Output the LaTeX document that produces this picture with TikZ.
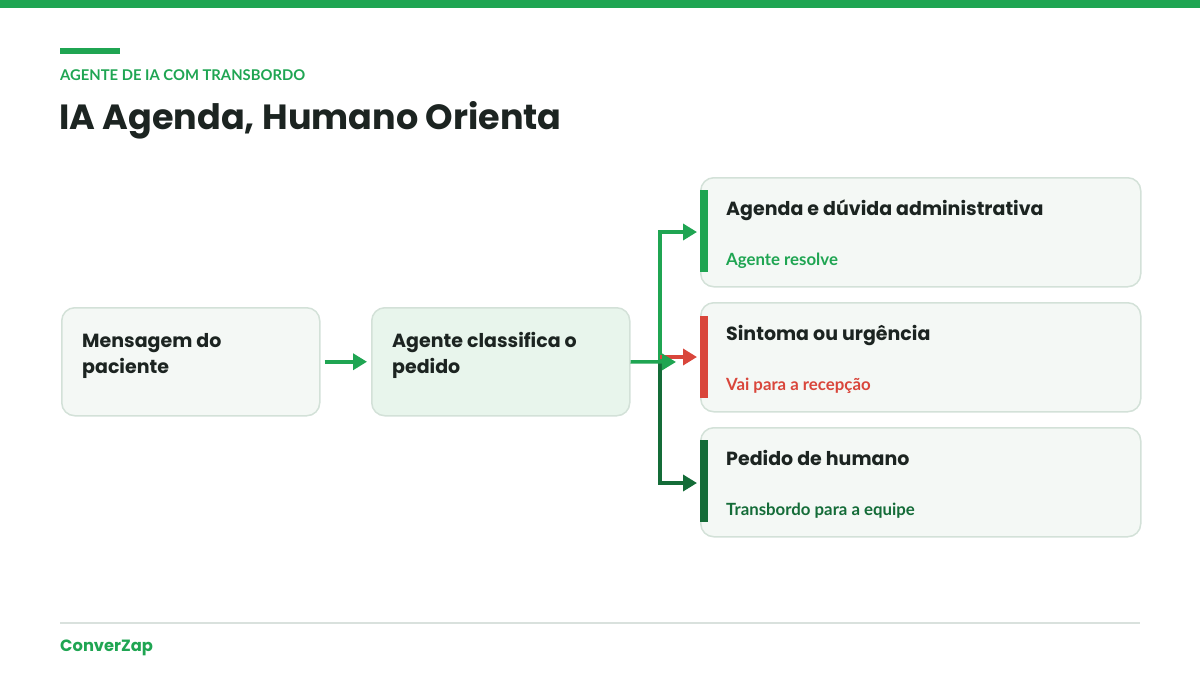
\documentclass[tikz,border=0pt]{standalone}
\usepackage{fontspec}
\setmainfont{Lato}
\newfontfamily\headfont{Poppins}
\usetikzlibrary{arrows.meta}
\definecolor{brand}{HTML}{1FA552}
\definecolor{darkbrand}{HTML}{146C38}
\definecolor{alert}{HTML}{D9463B}
\definecolor{ink}{HTML}{1C2421}
\definecolor{boxfill}{HTML}{F4F8F5}
\definecolor{boxfillb}{HTML}{E8F5EC}
\definecolor{boxline}{HTML}{D3E1D8}
\definecolor{rule}{HTML}{D9E1DD}
\tikzset{
  card/.style={draw=boxline, line width=1.5pt, rounded corners=13pt, fill=boxfill, minimum width=#1, inner sep=0pt, anchor=north west},
  card/.default=258pt,
  heading/.style={anchor=base west, inner sep=0pt, font=\headfont\bfseries\fontsize{19}{26}\selectfont, text=ink, align=left},
  sub/.style={anchor=base west, inner sep=0pt, font=\bfseries\fontsize{16.8}{18}\selectfont},
  flow/.style={line width=3.5pt, -{Triangle[length=14pt,width=16pt]}},
  accent/.style={fill=#1, draw=none}
}
\begin{document}
\begin{tikzpicture}[x=1pt,y=-1pt]
\useasboundingbox (0,0) rectangle (1200,675);
\fill[brand] (0,0) rectangle (1200,8);
\fill[brand] (60,48) rectangle (120,54);
\node[anchor=base west, inner sep=0pt, text=brand, font=\bfseries\fontsize{14.8}{16}\selectfont] (kicker) at (60,80) {AGENTE DE IA COM TRANSBORDO};
\node[anchor=base west, inner sep=0pt, text=ink, font=\headfont\bfseries\fontsize{35}{40}\selectfont] (title) at (59,129) {IA Agenda, Humano Orienta};

% left boxes
\node[card, minimum height=108pt] (msg) at (61,307) {};
\node[card, minimum height=108pt, fill=boxfillb] (cls) at (371,307) {};
\node[heading] (msgt) at (82,373) {Mensagem do\\paciente};
\node[heading] (clst) at (392,373) {Agente classifica o\\pedido};

% right cards
\node[card=440pt, minimum height=109pt] (c1) at (700,177) {};
\node[card=440pt, minimum height=109pt] (c2) at (700,302) {};
\node[card=440pt, minimum height=109pt] (c3) at (700,427) {};
\fill[accent=brand] (700,190) rectangle (708,272);
\fill[accent=alert] (700,316) rectangle (708,398);
\fill[accent=darkbrand] (700,440) rectangle (708,522);
\node[heading] (t1) at (726,215) {Agenda e dúvida administrativa};
\node[heading] (t2) at (726,340) {Sintoma ou urgência};
\node[heading] (t3) at (726,465) {Pedido de humano};
\node[sub, text=brand] (s1) at (726,265) {Agente resolve};
\node[sub, text=alert] (s2) at (726,390) {Vai para a recepção};
\node[sub, text=darkbrand] (s3) at (726,515) {Transbordo para a equipe};

% connectors
\coordinate (split) at (660,362);
\coordinate (e1) at (697,232);
\coordinate (e2) at (697,357);
\coordinate (e3) at (697,483);
\draw[flow, darkbrand] (split) |- (e3);
\draw[flow, brand] (split) |- (e1);
\draw[flow, alert] (660,357) -- (e2);
\draw[flow, brand] ([xshift=4pt]msg.east) -- ([xshift=-4pt]cls.west);
\draw[flow, brand] (cls.east) -- (676,362);

% footer
\draw[rule, line width=1.5pt] (60,623) -- (1140,623);
\node[anchor=base west, inner sep=0pt, text=brand, font=\headfont\bfseries\fontsize{16.3}{20}\selectfont] (brandname) at (60,651) {ConverZap};
\end{tikzpicture}
\end{document}
